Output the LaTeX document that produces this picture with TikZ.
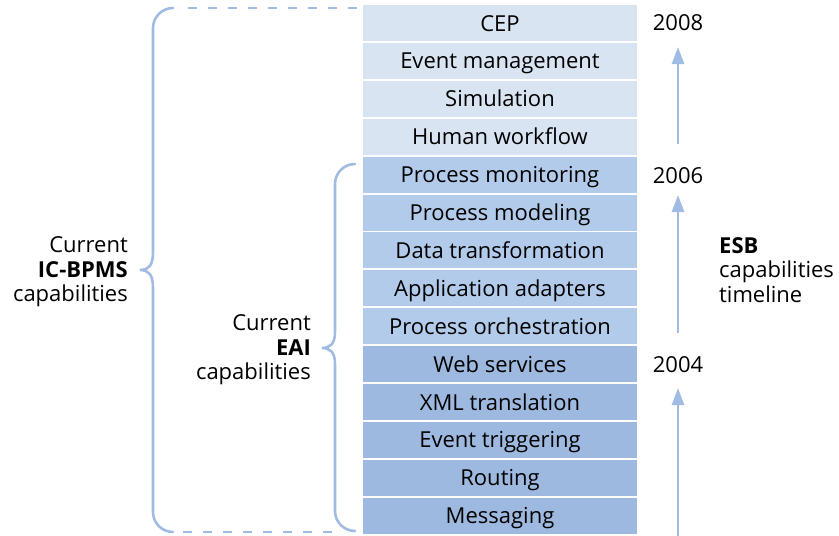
\documentclass[tikz,border=0pt]{standalone}
\usepackage{fontspec}
\setmainfont{Open Sans}
\usetikzlibrary{arrows.meta}
\definecolor{lightrow}{HTML}{D9E4F2}
\definecolor{midrow}{HTML}{B3CBEB}
\definecolor{darkrow}{HTML}{9DB9E0}
\definecolor{bracec}{HTML}{A1BCE3}
\tikzset{
  rowbox/.style={minimum width=274pt, minimum height=36pt, inner sep=0pt, text height=16pt, text depth=0pt, font=\fontsize{22}{24}\selectfont, text=black},
  lbl/.style={font=\fontsize{22}{24.5}\selectfont, inner sep=0pt},
  bracel/.style={draw=bracec, line width=2.6pt, line cap=round},
  dashl/.style={draw=bracec, line width=2.6pt, dash pattern=on 9pt off 11pt},
  tl/.style={draw=bracec, line width=2.6pt, -{Triangle[length=17pt,width=12pt]}}
}
\begin{document}
\begin{tikzpicture}[x=1pt,y=-1pt]
\useasboundingbox (0,0) rectangle (839,536);
% rows
\foreach \t/\c/\n [count=\i from 0] in {CEP/lightrow/r1, Event management/lightrow/r2, Simulation/lightrow/r3, Human workflow/lightrow/r4,
  Process monitoring/midrow/r5, Process modeling/midrow/r6, Data transformation/midrow/r7, Application adapters/midrow/r8, Process orchestration/midrow/r9,
  Web services/darkrow/r10, XML translation/darkrow/r11, Event triggering/darkrow/r12, Routing/darkrow/r13, Messaging/darkrow/r14}
  \node[rowbox, fill=\c] (\n) at (500, {23+37.9*\i}) {\t};
% big brace
\draw[bracel] (173,8) .. controls (162,8) and (153,17) .. (153,28) -- (153,252)
  .. controls (153,265) and (149,270) .. (140,270)
  .. controls (149,270) and (153,275) .. (153,288) -- (153,512)
  .. controls (153,523) and (162,532) .. (173,532);
\draw[dashl] (188,8) -- (363,8);
\draw[dashl] (183,532) -- (336,532);
% small brace
\draw[bracel] (355,164) .. controls (344,164) and (335,173) .. (335,184) -- (335,332)
  .. controls (335,344) and (330,348) .. (322,348)
  .. controls (330,348) and (335,352) .. (335,364) -- (335,511)
  .. controls (335,522) and (344,531) .. (355,531);
% left labels
\node[lbl, anchor=east, align=right] (ic) at (128,272) {Current\\\textbf{IC-BPMS}\\capabilities};
\node[lbl, anchor=east, align=right] (eai) at (311,350) {Current\\\textbf{EAI}\\capabilities};
% years
\node[lbl] (y2008) at (678,23) {2008};
\node[lbl] (y2006) at (678,176) {2006};
\node[lbl] (y2004) at (678,365) {2004};
\coordinate (base) at (678,536);
\draw[tl] (base) -- (678,388);
\draw[tl] (y2004.north) ++(0,-24) -- (678,195);
\draw[tl] (y2006.north) ++(0,-24) -- (678,47);
% ESB label
\node[lbl, anchor=west, align=left] (esb) at (719,270) {\textbf{ESB}\\capabilities\\timeline};
\end{tikzpicture}
\end{document}
